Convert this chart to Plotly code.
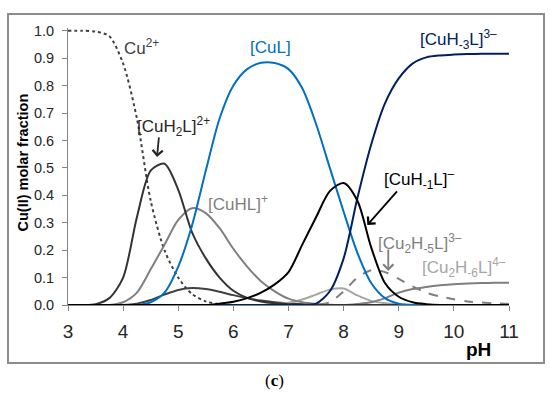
import plotly.graph_objects as go

pH = [3.0, 3.25, 3.5, 3.75, 4.0, 4.25, 4.5, 4.75, 5.0, 5.25, 5.5, 5.75, 6.0, 6.25, 6.5, 6.75,
      7.0, 7.25, 7.5, 7.75, 8.0, 8.25, 8.5, 8.75, 9.0, 9.25, 9.5, 9.75, 10.0, 10.25, 10.5, 10.75, 11.0]

cu2 = [1.0, 1.0, 0.997, 0.98, 0.88, 0.68, 0.38, 0.20, 0.10, 0.04, 0.013, 0.003, 0.0]
cuh2l = [0, 0, 0.003, 0.025, 0.10, 0.32, 0.49, 0.515, 0.42, 0.265, 0.17, 0.10, 0.052, 0.026, 0.013,
         0.006, 0.003, 0.001, 0, 0, 0, 0, 0, 0, 0, 0, 0, 0, 0, 0, 0, 0, 0]
cuhl = [0, 0, 0, 0, 0.01, 0.045, 0.13, 0.22, 0.31, 0.353, 0.335, 0.28, 0.205, 0.14, 0.087,
        0.05, 0.023, 0.01, 0.004, 0.001, 0, 0, 0, 0, 0, 0, 0, 0, 0, 0, 0, 0, 0]
cul = [0, 0, 0, 0, 0, 0, 0.01, 0.045, 0.14, 0.29, 0.49, 0.68, 0.80, 0.86, 0.883, 0.882,
       0.86, 0.79, 0.66, 0.50, 0.34, 0.19, 0.08, 0.025, 0.005, 0, 0, 0, 0, 0, 0, 0, 0]
cuh_1l = [0, 0, 0, 0, 0, 0, 0, 0, 0, 0, 0, 0.005, 0.012, 0.025, 0.045, 0.075, 0.12, 0.22,
          0.32, 0.415, 0.445, 0.38, 0.21, 0.08, 0.03, 0.01, 0.003, 0, 0, 0, 0, 0, 0]
cuh_3l = [0, 0, 0, 0, 0, 0, 0, 0, 0, 0, 0, 0, 0, 0, 0, 0, 0, 0, 0.005, 0.05, 0.17, 0.39,
          0.585, 0.735, 0.826, 0.88, 0.903, 0.91, 0.913, 0.915, 0.916, 0.916, 0.916]
cu2h_5l = [0, 0, 0, 0, 0, 0, 0, 0, 0, 0, 0, 0, 0, 0, 0, 0, 0, 0, 0, 0.01, 0.05, 0.10,
           0.127, 0.12, 0.095, 0.068, 0.045, 0.031, 0.021, 0.013, 0.009, 0.006, 0.004]
cu2h_6l = [0, 0, 0, 0, 0, 0, 0, 0, 0, 0, 0, 0, 0, 0, 0, 0, 0, 0, 0, 0, 0, 0.004, 0.01,
           0.025, 0.045, 0.058, 0.066, 0.072, 0.076, 0.078, 0.08, 0.081, 0.081]
minor_a = [0, 0, 0, 0, 0, 0.005, 0.018, 0.038, 0.055, 0.062, 0.058, 0.048, 0.036, 0.025,
           0.016, 0.01, 0.006, 0.003, 0.001, 0, 0, 0, 0, 0, 0, 0, 0, 0, 0, 0, 0, 0, 0]
minor_b = [0, 0, 0, 0, 0, 0, 0, 0, 0, 0, 0, 0, 0, 0, 0, 0.003, 0.008, 0.02, 0.038, 0.056,
           0.06, 0.035, 0.015, 0.006, 0.002, 0, 0, 0, 0, 0, 0, 0, 0]

yticks = [0.0, 0.1, 0.2, 0.3, 0.4, 0.5, 0.6, 0.7, 0.8, 0.9, 1.0]
xticks = [3, 4, 5, 6, 7, 8, 9, 10, 11]

series = [
    (minor_a, "#404040", "solid"),
    (minor_b, "#a6a6a6", "solid"),
    (cu2h_6l, "#7f7f7f", "solid"),
    (cu2h_5l, "#7f7f7f", "dash"),
    (cuhl, "#7f7f7f", "solid"),
    (cuh2l, "#333333", "solid"),
    (cul, "#0070C0", "solid"),
    (cuh_3l, "#002060", "solid"),
    (cuh_1l, "#000000", "solid"),
]

fig = go.Figure()
fig.add_trace(go.Scatter(x=pH[:len(cu2)], y=cu2, mode="lines",
                         line=dict(color="#404040", width=2, dash="dot", shape="spline", smoothing=0.8),
                         hoverinfo="skip", showlegend=False))
for ys, col, dash in series:
    fig.add_trace(go.Scatter(x=pH, y=ys, mode="lines",
                             line=dict(color=col, width=2, dash=dash, shape="spline", smoothing=0.8),
                             hoverinfo="skip", showlegend=False))

FONT = "Liberation Sans, Arial, sans-serif"
labels = [
    ("Cu<sup>2+</sup>", 4.34, 0.94, "#404040"),
    ("[CuL]", 6.68, 0.94, "#0070C0"),
    ("[CuH<sub>-3</sub>L]<sup>3–</sup>", 10.08, 0.967, "#002060"),
    ("[CuH<sub>2</sub>L]<sup>2+</sup>", 4.91, 0.65, "#262626"),
    ("[CuHL]<sup>+</sup>", 6.09, 0.372, "#7f7f7f"),
    ("[CuH<sub>-1</sub>L]<sup>–</sup>", 9.37, 0.456, "#000000"),
    ("[Cu<sub>2</sub>H<sub>-5</sub>L]<sup>3–</sup>", 9.39, 0.226, "#7f7f7f"),
    ("[Cu<sub>2</sub>H<sub>-6</sub>L]<sup>4–</sup>", 10.19, 0.135, "#a6a6a6"),
]
for txt, x, y, col in labels:
    fig.add_annotation(x=x, y=y, text=txt, showarrow=False, xanchor="center", yanchor="middle",
                       font=dict(family=FONT, size=17, color=col))

arrows = [
    (4.615, 0.54, 2, -21, "#262626"),
    (8.43, 0.292, 31, -35, "#000000"),
    (8.81, 0.124, 0, -23, "#7f7f7f"),
]
for x, y, ax, ay, col in arrows:
    fig.add_annotation(x=x, y=y, text="", showarrow=True, ax=ax, ay=ay,
                       arrowhead=4, arrowsize=1.1, arrowwidth=1.8, arrowcolor=col)

# paper now spans the whole figure (zero margins, axes placed by domain)
fig.add_annotation(xref="paper", yref="paper", x=0.8691, y=0.1117, text="<b>pH</b>",
                   xanchor="center", yanchor="middle",
                   showarrow=False, font=dict(family=FONT, size=19, color="#000000"))
fig.add_annotation(xref="paper", yref="paper", x=0.0418, y=0.5876, text="<b>Cu(II) molar fraction</b>",
                   xanchor="center", yanchor="middle",
                   textangle=-90, showarrow=False, font=dict(family=FONT, size=14.5, color="#000000"))
fig.add_annotation(xref="paper", yref="paper", x=0.4996, y=0.0332, text="(<b>c</b>)",
                   xanchor="center", yanchor="middle",
                   showarrow=False, font=dict(family="Liberation Serif, Times New Roman, serif", size=17, color="#000000"))

# outer frame
fig.add_shape(type="rect", xref="paper", yref="paper", x0=0.01455, x1=0.98909, y0=0.07868, y1=0.96447,
              line=dict(color="#8c8c8c", width=2), fillcolor="rgba(0,0,0,0)", layer="above")

fig.update_xaxes(range=[3, 11], domain=[68 / 550, 509 / 550], tickvals=xticks, ticks="outside",
                 ticklen=5, tickcolor="#868686",
                 showline=True, linecolor="#868686", linewidth=1, showgrid=False, zeroline=False,
                 ticklabelstandoff=4, automargin=False,
                 tickfont=dict(family=FONT, size=19, color="#262626"))
fig.update_yaxes(range=[0, 1.01], domain=[89 / 394, 366 / 394], tickvals=yticks, tickformat=".1f",
                 ticks="outside", ticklen=5,
                 tickcolor="#868686", showline=True, linecolor="#868686", linewidth=1,
                 showgrid=False, zeroline=False, ticklabelstandoff=5, automargin=False,
                 tickfont=dict(family=FONT, size=14.5, color="#262626"))
fig.update_layout(width=550, height=394, margin=dict(l=0, r=0, t=0, b=0, pad=0, autoexpand=False),
                  plot_bgcolor="white", paper_bgcolor="white")
fig.write_html("out.html", config={"displayModeBar": False},
               post_script="document.body.style.margin='0';document.body.style.overflow='hidden';")
